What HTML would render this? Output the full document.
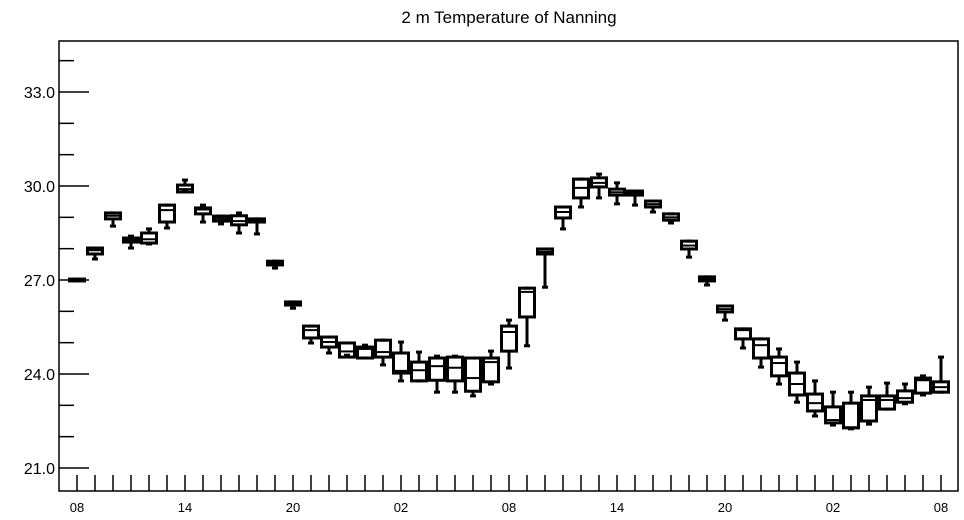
<!DOCTYPE html>
<html><head><meta charset="utf-8"><style>
body{margin:0;background:#fff;}
svg{display:block;font-family:"Liberation Sans",sans-serif;}
</style></head><body>
<svg id="chart" width="964" height="520" viewBox="0 0 964 520">
<text x="509" y="23" font-size="17" text-anchor="middle">2 m Temperature of Nanning</text>
<g id="axes"></g><g id="boxes"></g>
</svg>
<script>
const hours=["08","","","","","","14","","","","","","20","","","","","","02","","","","","","08","","","","","","14","","","","","","20","","","","","","02","","","","","","08"];
const yTickLabels=["21.0","24.0","27.0","30.0","33.0"];
const yTickValues=[21,24,27,30,33];
const lo =[26.97,27.67,28.72,28.02,28.15,28.66,29.85,28.85,28.79,28.50,28.47,27.38,26.10,24.99,24.67,24.60,24.51,24.29,23.78,23.78,23.42,23.42,23.30,23.68,24.19,24.90,26.77,28.63,29.33,29.62,29.43,29.39,29.17,28.82,27.73,26.84,25.72,24.83,24.22,23.68,23.10,22.66,22.37,22.25,22.40,22.88,23.05,23.33,23.42];
const q1 =[26.97,27.83,28.95,28.21,28.18,28.85,29.81,29.11,28.88,28.76,28.85,27.48,26.20,25.15,24.86,24.54,24.51,24.54,24.03,23.78,23.80,23.78,23.45,23.75,24.73,25.82,27.83,28.98,29.62,29.97,29.71,29.71,29.33,28.91,27.99,26.97,25.98,25.12,24.51,23.94,23.33,22.82,22.44,22.28,22.50,22.88,23.10,23.39,23.42];
const med=[27.00,27.95,29.05,28.28,28.30,29.23,29.90,29.25,28.96,28.88,28.90,27.55,26.25,25.40,25.02,24.72,24.80,24.70,24.10,24.12,24.25,24.20,23.87,24.38,25.34,26.62,27.90,29.17,29.94,30.10,29.80,29.78,29.42,29.00,28.10,27.03,26.07,25.40,24.92,24.35,23.68,23.07,22.53,22.30,23.17,23.17,23.23,23.80,23.58];
const q3 =[27.03,28.02,29.14,28.34,28.50,29.39,30.03,29.30,29.04,29.05,28.95,27.60,26.30,25.53,25.18,24.99,24.86,25.08,24.67,24.38,24.51,24.54,24.51,24.51,25.53,26.74,27.99,29.33,30.22,30.26,29.90,29.84,29.52,29.11,28.24,27.10,26.17,25.44,25.12,24.54,24.03,23.36,22.95,23.07,23.30,23.30,23.46,23.87,23.75];
const hi =[27.03,28.02,29.14,28.40,28.63,29.39,30.19,29.39,29.04,29.14,28.95,27.60,26.30,25.53,25.18,24.99,24.92,25.08,25.02,24.70,24.57,24.57,24.51,24.73,25.72,26.74,27.99,29.33,30.22,30.38,30.10,29.84,29.52,29.11,28.24,27.10,26.17,25.44,25.12,24.80,24.38,23.78,23.42,23.42,23.58,23.71,23.68,23.94,24.54];
const NS="http://www.w3.org/2000/svg";
const L=59,R=958,T=41,B=491;
function yS(v){return 92+(33-v)*94/3;}
function xS(i){return 77+18*i;}
function mk(tag,attrs,parent){const e=document.createElementNS(NS,tag);for(const k in attrs)e.setAttribute(k,attrs[k]);parent.appendChild(e);return e;}
const ax=document.getElementById('axes'),bx=document.getElementById('boxes');
const frame=mk('rect',{x:L,y:T,width:R-L,height:B-T,fill:'none',stroke:'#000','stroke-width':1.5},ax);


for(let v=21;v<=34;v++){
  const major=(v%3===0);
  const t=mk('line',{x1:L,x2:L+(major?30:15),y1:yS(v),y2:yS(v),stroke:'#000','stroke-width':1.5},ax);
  
  
}
yTickValues.forEach((v,k)=>{
  const t=mk('text',{x:55,y:yS(v)+6,'font-size':16,'text-anchor':'end'},ax);
  t.textContent=yTickLabels[k];
  
  
});
hours.forEach((h,i)=>{
  const t=mk('line',{x1:xS(i),x2:xS(i),y1:B-16,y2:B,stroke:'#000','stroke-width':1.5},ax);
  
  
  if(h){
    const l=mk('text',{x:xS(i),y:512,'font-size':13,'text-anchor':'middle'},ax);
    l.textContent=h;
    
    
  }
});
for(let i=0;i<lo.length;i++){
  const g=mk('g',{stroke:'#000','stroke-width':3,fill:'none'},bx);
  
  
  const x=xS(i),w=15;
  mk('line',{x1:x,x2:x,y1:yS(hi[i]),y2:yS(q3[i])},g);
  mk('line',{x1:x,x2:x,y1:yS(q1[i]),y2:yS(lo[i])},g);
  mk('line',{x1:x-3,x2:x+3,y1:yS(hi[i]),y2:yS(hi[i])},g);
  mk('line',{x1:x-3,x2:x+3,y1:yS(lo[i]),y2:yS(lo[i])},g);
  mk('rect',{x:x-w/2,y:yS(q3[i]),width:w,height:Math.max(1,yS(q1[i])-yS(q3[i]))},g);
  mk('line',{x1:x-w/2,x2:x+w/2,y1:yS(med[i]),y2:yS(med[i]),'stroke-width':2},g);
}
</script>
</body></html>
